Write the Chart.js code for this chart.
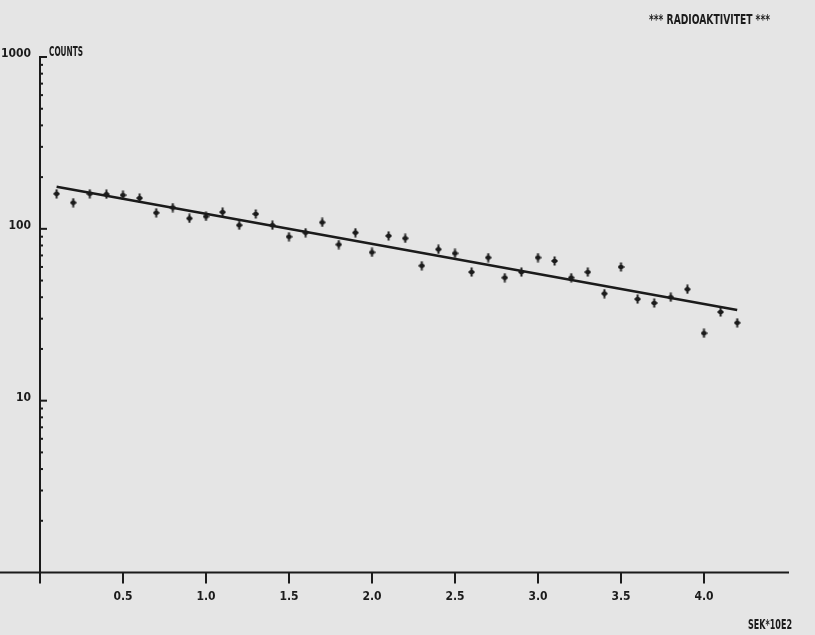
<!DOCTYPE html>
<html>
<head>
<meta charset="utf-8">
<script src="https://cdn.jsdelivr.net/npm/chart.js@4/dist/chart.umd.min.js"></script>
<style>
  html, body { margin: 0; padding: 0; background: #e5e5e5; }
  #wrap { width: 815px; height: 635px; position: relative; }
</style>
</head>
<body>
<div id="wrap"><canvas id="c" width="815" height="635"></canvas></div>
<script>
// ---- data ----
const timeX = [0.1,0.2,0.3,0.4,0.5,0.6,0.7,0.8,0.9,1.0,1.1,1.2,1.3,1.4,1.5,1.6,1.7,1.8,1.9,2.0,2.1,
               2.2,2.3,2.4,2.5,2.6,2.7,2.8,2.9,3.0,3.1,3.2,3.3,3.4,3.5,3.6,3.7,3.8,3.9,4.0,4.1,4.2];
const counts = [160,142,160,159,157,151,124,133,115,118,125,105,122,105,90,95,109,81,95,73,91,
                88,61,76,72,56,68,52,56,68,65,52,56,42,60,39,37,40,44.5,24.7,32.8,28.4];
const fitX = [0.1, 4.2];
const fitY = [176, 33.7];
const xTickLabels = ['0.5','1.0','1.5','2.0','2.5','3.0','3.5','4.0'];
const yTickLabels = ['10','100','1000'];
const titleText = '*** RADIOAKTIVITET ***';
const yAxisTitle = 'COUNTS';
const xAxisTitle = 'SEK*10E2';

const INK = '#1b1b1b';
const FONT_FAMILY = '"Liberation Sans Narrow", "DejaVu Sans Condensed", "Liberation Sans", sans-serif';

// plus-shaped marker
function makePlus() {
  const c = document.createElement('canvas');
  c.width = 7; c.height = 10;
  const g = c.getContext('2d');
  g.fillStyle = INK;
  g.fillRect(2.5, 0.5, 2, 9);
  g.fillRect(0.5, 4, 6, 2);
  g.fillRect(1.5, 3, 4, 4);
  return c;
}
const plus = makePlus();

const bgPlugin = {
  id: 'bg',
  beforeDraw(chart) {
    const ctx = chart.ctx;
    ctx.save();
    ctx.fillStyle = '#e5e5e5';
    ctx.fillRect(0, 0, chart.width, chart.height);
    ctx.restore();
  }
};

function squeezeText(ctx, text, left, cy, targetW, size) {
  ctx.save();
  ctx.font = 'bold ' + size + 'px ' + FONT_FAMILY;
  ctx.textBaseline = 'middle';
  ctx.textAlign = 'left';
  const w = ctx.measureText(text).width;
  ctx.translate(left, cy);
  ctx.scale(targetW / w, 1);
  ctx.fillStyle = INK;
  ctx.fillText(text, 0, 0);
  ctx.restore();
}

const axesPlugin = {
  id: 'plotterAxes',
  afterDraw(chart) {
    const ctx = chart.ctx;
    const xs = chart.scales.x, ys = chart.scales.y;
    const x0 = xs.getPixelForValue(0);
    const yBottom = ys.getPixelForValue(1);
    const yTop = ys.getPixelForValue(1000);
    ctx.save();
    ctx.strokeStyle = INK;
    ctx.lineWidth = 2;
    ctx.lineCap = 'butt';
    // x axis line (extends to left edge)
    ctx.beginPath();
    ctx.moveTo(0, yBottom);
    ctx.lineTo(xs.right + 2, yBottom);
    ctx.stroke();
    // y axis line (extends a bit below x axis)
    ctx.beginPath();
    ctx.moveTo(x0, yTop - 1);
    ctx.lineTo(x0, yBottom + 11);
    ctx.stroke();
    // x ticks
    xs.ticks.forEach(t => {
      if (t.value <= 0 || t.value > 4.01) return;
      const px = xs.getPixelForValue(t.value);
      ctx.beginPath();
      ctx.moveTo(px, yBottom);
      ctx.lineTo(px, yBottom + 11);
      ctx.stroke();
    });
    // y ticks (pointing into the plot)
    ys.ticks.forEach(t => {
      const v = t.value;
      if (v <= 1) return;
      const py = ys.getPixelForValue(v);
      const major = Math.abs(Math.log10(v) - Math.round(Math.log10(v))) < 1e-9;
      ctx.beginPath();
      ctx.moveTo(x0, py);
      ctx.lineTo(x0 + (major ? 7 : 3), py);
      ctx.stroke();
    });
    ctx.restore();
    // texts
    squeezeText(ctx, titleText, 649, 20, 121, 14);
    squeezeText(ctx, yAxisTitle, 49, 52, 34, 14);
    squeezeText(ctx, xAxisTitle, 748, 625, 44, 14);
  }
};

new Chart(document.getElementById('c'), {
  type: 'scatter',
  data: {
    datasets: [
      {
        label: 'Counts',
        data: timeX.map((x, i) => ({ x: x, y: counts[i] })),
        pointStyle: plus,
        pointRadius: 4,
        showLine: false
      },
      {
        label: 'Fit',
        type: 'line',
        data: fitX.map((x, i) => ({ x: x, y: fitY[i] })),
        borderColor: INK,
        borderWidth: 2.5,
        pointRadius: 0,
        fill: false,
        tension: 0
      }
    ]
  },
  options: {
    responsive: false,
    animation: false,
    events: [],
    layout: { padding: { left: 0, right: 28, top: 57, bottom: 0 } },
    plugins: { legend: { display: false }, tooltip: { enabled: false }, title: { display: false } },
    scales: {
      x: {
        type: 'linear',
        min: 0, max: 4.5,
        grid: { display: false, drawTicks: false },
        border: { display: false },
        afterFit(s) { s.height = 62.5; },
        ticks: {
          stepSize: 0.5,
          autoSkip: false,
          maxRotation: 0,
          padding: 17,
          color: INK,
          font: { family: FONT_FAMILY, size: 12, weight: 'bold' },
          callback(v) {
            const lab = Number(v).toFixed(1);
            return xTickLabels.includes(lab) ? lab : '';
          }
        }
      },
      y: {
        type: 'logarithmic',
        min: 1, max: 1000,
        grid: { display: false, drawTicks: false },
        border: { display: false },
        afterFit(s) { s.width = 40; },
        afterBuildTicks(s) {
          const t = [];
          for (let e = 0; e < 3; e++) for (let m = 1; m < 10; m++) t.push({ value: m * Math.pow(10, e) });
          t.push({ value: 1000 });
          s.ticks = t;
        },
        ticks: {
          autoSkip: false,
          padding: 9,
          labelOffset: -3,
          color: INK,
          font: { family: FONT_FAMILY, size: 12, weight: 'bold' },
          callback(v) {
            const lab = String(Math.round(v));
            return yTickLabels.includes(lab) ? lab : '';
          }
        }
      }
    }
  },
  plugins: [bgPlugin, axesPlugin]
});
</script>
</body>
</html>
